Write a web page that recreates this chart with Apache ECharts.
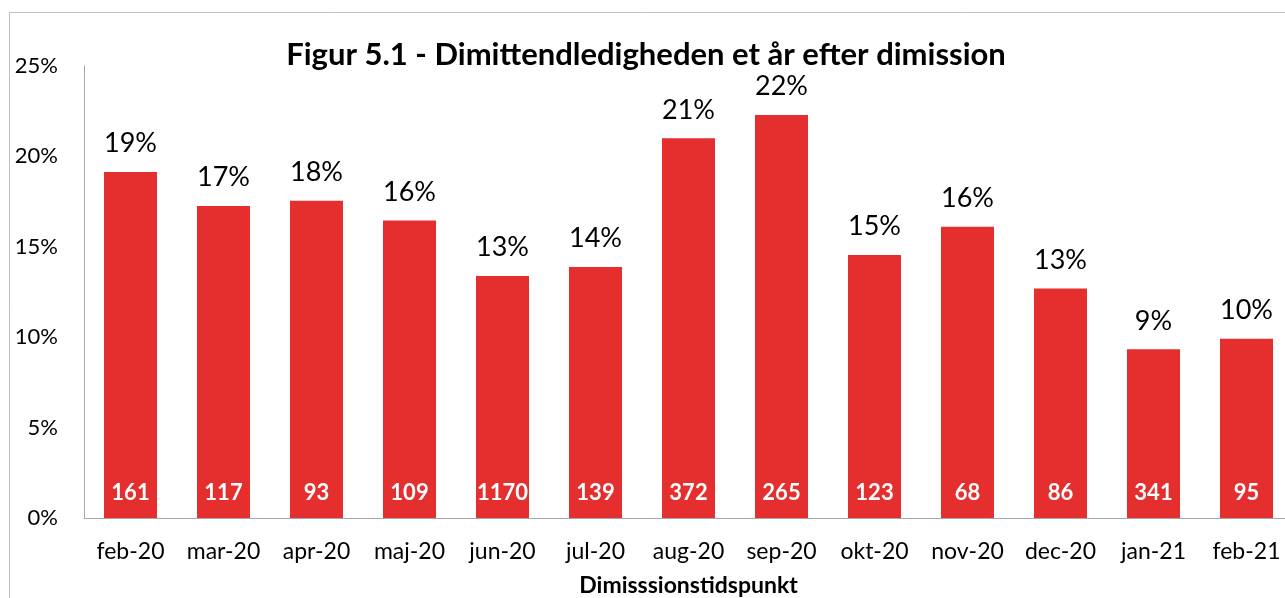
<!DOCTYPE html>
<html>
<head>
<meta charset="utf-8">
<script src="https://cdn.jsdelivr.net/npm/echarts@6/dist/echarts.min.js"></script>
<style>
  html, body { margin: 0; padding: 0; background: #fff; }
  #chart { width: 1285px; height: 598px; }
</style>
</head>
<body>
<div id="chart"></div>
<script>
// dimissionstidspunkter
const months = ['feb-20', 'mar-20', 'apr-20', 'maj-20', 'jun-20', 'jul-20', 'aug-20',
  'sep-20', 'okt-20', 'nov-20', 'dec-20', 'jan-21', 'feb-21'];
// ledighed i procent
const rates = [19.14, 17.26, 17.55, 16.45, 13.38, 13.88, 21.0, 22.29, 14.55, 16.11, 12.7, 9.33, 9.92];
// antal dimittender
const counts = [161, 117, 93, 109, 1170, 139, 372, 265, 123, 68, 86, 341, 95];
const yTicks = [0, 5, 10, 15, 20, 25];

const font = 'Lato, "Open Sans", sans-serif';
const red = '#E52E2E';

const chart = echarts.init(document.getElementById('chart'), null, { renderer: 'canvas' });

chart.setOption({
  animation: false,
  textStyle: { fontFamily: font },
  title: {
    text: 'Figur 5.1 - Dimittendledigheden et år efter dimission',
    left: 641,
    top: 34,
    textAlign: 'center',
    textStyle: { fontSize: 31, fontWeight: 'bold', color: '#000', fontFamily: font }
  },
  graphic: [{
    type: 'rect',
    shape: { x: 9.5, y: 12.5, width: 1300, height: 620 },
    style: { fill: 'none', stroke: '#BFBFBF', lineWidth: 1 },
    silent: true
  }],
  grid: { left: 84, right: -8, top: 66, bottom: 80, containLabel: false, outerBoundsMode: 'none' },
  xAxis: {
    type: 'category',
    data: months,
    axisLine: { lineStyle: { color: '#A6A6A6', width: 1 } },
    axisTick: { show: false },
    axisLabel: { interval: 0, fontSize: 23, color: '#000', margin: 22, fontFamily: font },
    name: 'Dimisssionstidspunkt',
    nameLocation: 'middle',
    nameGap: 56,
    nameTextStyle: { fontSize: 23, fontWeight: 'bold', color: '#000', fontFamily: font }
  },
  yAxis: {
    type: 'value',
    min: yTicks[0],
    max: yTicks[yTicks.length - 1],
    interval: 5,
    splitLine: { show: false },
    axisLine: { show: true, lineStyle: { color: '#A6A6A6', width: 1 } },
    axisTick: { show: false },
    axisLabel: { fontSize: 22, color: '#000', margin: 26, formatter: v => v + '%', fontFamily: font }
  },
  series: [
    {
      type: 'bar',
      data: rates,
      barWidth: 53,
      itemStyle: { color: red },
      label: {
        show: true,
        position: 'top',
        distance: 15,
        fontSize: 27,
        color: '#000',
        fontFamily: font,
        formatter: p => Math.round(p.value) + '%'
      }
    },
    {
      // kun til antal-etiketterne i bunden af søjlerne
      type: 'bar',
      data: rates,
      barWidth: 53,
      barGap: '-100%',
      itemStyle: { color: 'rgba(0,0,0,0)' },
      silent: true,
      label: {
        show: true,
        position: 'insideBottom',
        distance: 14,
        fontSize: 22,
        fontWeight: 'bold',
        color: '#fff',
        fontFamily: font,
        formatter: p => counts[p.dataIndex]
      }
    }
  ]
});
</script>
</body>
</html>
